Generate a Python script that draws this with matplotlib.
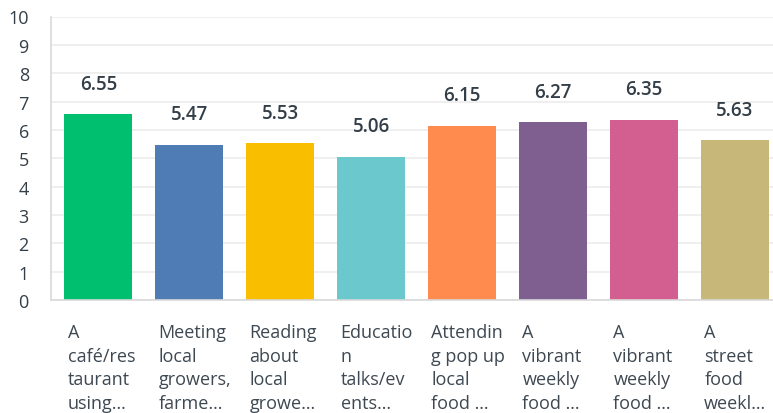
import matplotlib
matplotlib.use("Agg")
import matplotlib.pyplot as plt

plt.rcParams['font.family'] = ['Open Sans', 'DejaVu Sans']

categories = [
    "A\ncafé/res\ntaurant\nusing…",
    "Meeting\nlocal\ngrowers,\nfarme…",
    "Reading\nabout\nlocal\ngrowe…",
    "Educatio\nn\ntalks/ev\nents…",
    "Attendin\ng pop up\nlocal\nfood …",
    "A\nvibrant\nweekly\nfood …",
    "A\nvibrant\nweekly\nfood …",
    "A\nstreet\nfood\nweekl…",
]
values = [6.55, 5.47, 5.53, 5.06, 6.15, 6.27, 6.35, 5.63]
colors = ["#00bf6f", "#507cb6", "#f9be00", "#6bc8cd",
          "#ff8b4f", "#7f5f90", "#d25f90", "#c7b879"]
yticks = [0, 1, 2, 3, 4, 5, 6, 7, 8, 9, 10]

W, H = 773, 414
fig = plt.figure(figsize=(W / 100, H / 100), dpi=100)
ax = fig.add_axes([51 / W, (H - 301) / H, (773 - 51) / W, (301 - 17.5) / H])

x = list(range(len(values)))
ax.bar(x, values, width=0.75, color=colors, zorder=2)

ax.set_xlim(-0.52, 7.42)
ax.set_ylim(0, 10)
ax.set_yticks(yticks)
ax.set_yticklabels([str(t) for t in yticks], fontsize=13, color="#333e48")
ax.tick_params(axis='y', length=0, pad=16)
ax.set_xticks([])

ax.grid(axis='y', color="#ececec", linewidth=1.2, zorder=0)
for s in ["top", "right"]:
    ax.spines[s].set_visible(False)
ax.spines["left"].set_color("#d9d9d9")
ax.spines["bottom"].set_color("#d9d9d9")
ax.spines["left"].set_linewidth(1.2)
ax.spines["bottom"].set_linewidth(1.2)

for xi, v in zip(x, values):
    ax.annotate(f"{v:.2f}", xy=(xi, v), xytext=(0, 22), textcoords="offset points",
                ha="center", va="center", fontsize=13.5, fontweight="semibold",
                color="#333e48")

for xi, lab in zip(x, categories):
    ax.annotate(lab, xy=(xi, 0), xytext=(-22, -16.5), textcoords="offset points",
                ha="left", va="top", fontsize=13, color="#3d4852",
                linespacing=1.4, annotation_clip=False)

fig.savefig("out.png", dpi=100)
